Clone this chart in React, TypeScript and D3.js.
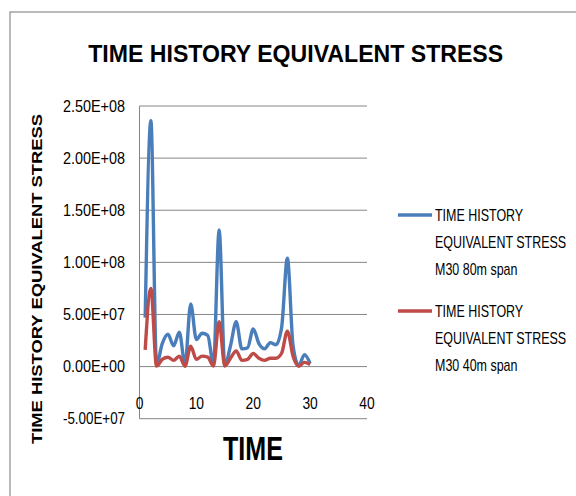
import React from "react";
import * as d3 from "d3";

const times = [1,2,3,4,5,6,7,8,9,10,11,12,13,14,15,16,17,18,19,20,21,22,23,24,25,26,27,28,29,30];
const span80 = [4.7e7,2.36e8,2e6,2.2e7,3.1e7,2.0e7,3.3e7,2e6,6.0e7,2.6e7,3.2e7,3.0e7,2e6,1.31e8,1e6,2.0e7,4.3e7,1.7e7,1.8e7,3.6e7,2.2e7,1.7e7,2.3e7,2.1e7,3.8e7,1.04e8,2.0e7,1e6,1.15e7,3e6];
const span40 = [1.6e7,7.5e7,5e5,7e6,9e6,6e6,1.0e7,3e5,1.95e7,7e6,1.0e7,9e6,5e5,4.3e7,5e5,8e6,1.5e7,6e6,7e6,1.25e7,8e6,6e6,8e6,8e6,1.3e7,3.4e7,1.0e7,3e5,4e6,2e6];
const yTicks = [-5e7, 0, 5e7, 1e8, 1.5e8, 2e8, 2.5e8];
const xTicks = [0, 10, 20, 30, 40];
const seriesNames = [
  ["TIME HISTORY", "EQUIVALENT STRESS", "M30 80m span"],
  ["TIME HISTORY", "EQUIVALENT STRESS", "M30 40m span"],
];
const colors = ["#4A7EBB", "#BE4B48"];
const title = "TIME HISTORY EQUIVALENT STRESS";
const yTitle = "TIME HISTORY EQUIVALENT STRESS";
const xTitle = "TIME";

const SANS = "'Liberation Sans', Arial, sans-serif";

function fmt(v: number) {
  const s = v.toExponential(2).toUpperCase();
  return s.replace(/E([+-])(\d)$/, "E$10$2");
}

function NText(props: {
  x: number;
  y: number;
  size: number;
  sx: number;
  anchor?: string;
  bold?: boolean;
  children: React.ReactNode;
}) {
  return (
    <g transform={`translate(${props.x},${props.y}) scale(${props.sx},1)`}>
      <text
        x={0}
        y={0}
        textAnchor={props.anchor || "start"}
        fontFamily={SANS}
        fontWeight={props.bold ? "bold" : "normal"}
        fontSize={props.size}
        fill="#000"
      >
        {props.children}
      </text>
    </g>
  );
}

export default function App() {
  const x = d3.scaleLinear().domain([0, 40]).range([139.5, 367]);
  const y = d3.scaleLinear().domain([-5e7, 2.5e8]).range([418.7, 106]);
  const line = d3
    .line<number>()
    .x((_, i) => x(times[i]))
    .y((d) => y(d))
    .curve(d3.curveMonotoneX);
  const series = [span80, span40];
  return (
    <svg
      width={576}
      height={496}
      style={{ position: "fixed", left: 0, top: 0, background: "#fff" }}
    >
      <rect x={0} y={0} width={576} height={496} fill="#fff" />
      <rect x={10} y={12} width={620} height={540} fill="none" stroke="#8c8c8c" strokeWidth={1.2} />
      <text
        x={295.7}
        y={62}
        textAnchor="middle"
        fontFamily={SANS}
        fontWeight="bold"
        fontSize={24.5}
        textLength={415}
        lengthAdjust="spacingAndGlyphs"
        fill="#000"
      >
        {title}
      </text>
      {yTicks.filter((t) => t !== -5e7).map((t) => (
        <line key={t} x1={x(0)} x2={x(40)} y1={y(t)} y2={y(t)} stroke="#868686" strokeWidth={1} />
      ))}
      <line x1={x(0)} x2={x(40)} y1={y(-5e7)} y2={y(-5e7)} stroke="#868686" strokeWidth={1} />
      <line x1={x(0)} x2={x(0)} y1={y(2.5e8)} y2={y(-5e7)} stroke="#868686" strokeWidth={1} />
      {yTicks.map((t) => (
        <text
          key={t}
          x={125}
          y={y(t) + 5.6}
          textAnchor="end"
          fontFamily={SANS}
          fontSize={16}
          textLength={62}
          lengthAdjust="spacingAndGlyphs"
          fill="#000"
        >
          {fmt(t)}
        </text>
      ))}
      {xTicks.map((t) => (
        <NText key={t} x={x(t)} y={409} size={16.5} sx={0.84} anchor="middle">
          {t}
        </NText>
      ))}
      {series.map((s, k) => (
        <path key={k} d={line(s) || ""} fill="none" stroke={colors[k]} strokeWidth={3.4} strokeLinejoin="round" />
      ))}
      <text
        transform="translate(42,279) rotate(-90)"
        textAnchor="middle"
        fontFamily={SANS}
        fontWeight="bold"
        fontSize={14.5}
        textLength={330}
        lengthAdjust="spacingAndGlyphs"
        fill="#000"
      >
        {yTitle}
      </text>
      <text
        x={253}
        y={460}
        textAnchor="middle"
        fontFamily={SANS}
        fontWeight="bold"
        fontSize={34}
        textLength={60}
        lengthAdjust="spacingAndGlyphs"
        fill="#000"
      >
        {xTitle}
      </text>
      {seriesNames.map((lines, k) => {
        const cy = 215 + k * 96;
        return (
          <g key={k}>
            <line x1={398} x2={432} y1={cy} y2={cy} stroke={colors[k]} strokeWidth={3.4} />
            {lines.map((l, j) => (
              <NText key={j} x={435} y={cy + 5.8 + j * 27} size={16} sx={0.78}>
                {l}
              </NText>
            ))}
          </g>
        );
      })}
    </svg>
  );
}
